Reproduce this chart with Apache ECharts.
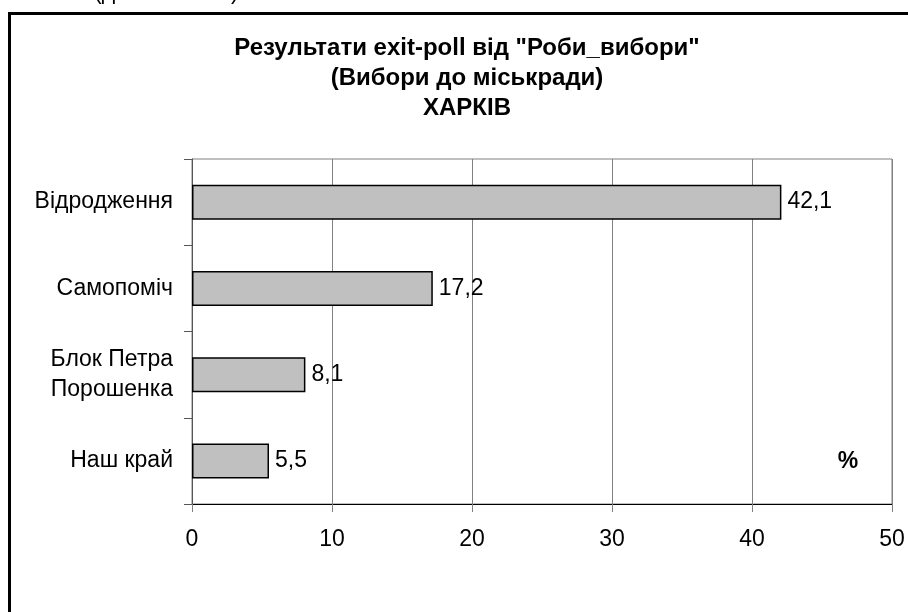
<!DOCTYPE html>
<html><head><meta charset="utf-8">
<script src="https://cdn.jsdelivr.net/npm/echarts@6/dist/echarts.min.js"></script>
<style>html,body{margin:0;padding:0;background:#fff}#c{width:908px;height:612px}</style>
</head><body><div id="c"></div>
<script>
const titleLines = ['Результати exit-poll від "Роби_вибори"', '(Вибори до міськради)', 'ХАРКІВ'];
const categories = ['Відродження', 'Самопоміч', 'Блок Петра\nПорошенка', 'Наш край'];
const values = [42.1, 17.2, 8.1, 5.5];
const xTicks = [0, 10, 20, 30, 40, 50];
const unitLabel = '%';

const FONT = '"Liberation Sans", Arial, sans-serif';
const chart = echarts.init(document.getElementById('c'), null, {renderer: 'canvas'});
chart.setOption({
  backgroundColor: '#fff',
  animation: false,
  title: {
    text: titleLines.join('\n'),
    left: 467, top: 33, textAlign: 'center', padding: 0,
    textStyle: {fontFamily: FONT, fontSize: 24, fontWeight: 'bold', color: '#000', lineHeight: 30}
  },
  graphic: [
    {type: 'rect', shape: {x: 9.5, y: 13.5, width: 1200, height: 1200}, style: {fill: 'none', stroke: '#000', lineWidth: 3}, z: 100},
    {type: 'text', x: 94, y: -7, style: {text: '(д', fontFamily: FONT, fontSize: 23, fill: '#000', verticalAlign: 'middle'}},
    {type: 'text', x: 231, y: -7, style: {text: ')', fontFamily: FONT, fontSize: 23, fill: '#000', verticalAlign: 'middle'}},
    {type: 'text', x: 848, y: 462, style: {text: unitLabel, fontFamily: FONT, fontSize: 23, fontWeight: 'bold', fill: '#000', align: 'center', verticalAlign: 'middle'}}
  ],
  grid: {left: 192, right: 16, top: 159, bottom: 108, containLabel: false, show: true, borderColor: '#808080', borderWidth: 1},
  xAxis: {
    type: 'value', min: xTicks[0], max: xTicks[xTicks.length - 1], interval: 10,
    axisLine: {show: true, lineStyle: {color: '#000', width: 1}},
    axisTick: {show: true, length: 8, lineStyle: {color: '#808080'}},
    axisLabel: {margin: 24, fontFamily: FONT, fontSize: 23, color: '#000'},
    splitLine: {show: true, lineStyle: {color: '#808080', width: 1}}
  },
  yAxis: {
    type: 'category', data: categories, inverse: true,
    axisLine: {show: true, lineStyle: {color: '#555', width: 1}},
    axisTick: {show: true, length: 8, lineStyle: {color: '#555'}},
    axisLabel: {margin: 19, fontFamily: FONT, fontSize: 23, color: '#000', lineHeight: 30, align: 'right'},
    splitLine: {show: false}
  },
  series: [{
    type: 'bar', data: values, barWidth: 35,
    itemStyle: {color: '#c0c0c0', borderColor: '#000', borderWidth: 1.5},
    label: {show: true, position: 'right', distance: 6, fontFamily: FONT, fontSize: 23, color: '#000',
      formatter: p => String(p.value).replace('.', ',')}
  }]
});
</script></body></html>
